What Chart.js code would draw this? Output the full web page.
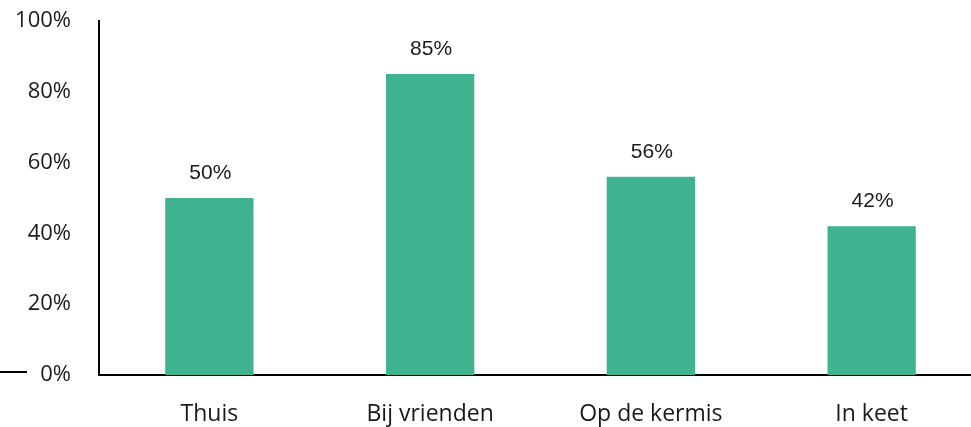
<!DOCTYPE html>
<html lang="nl">
<head>
    <meta charset="UTF-8">
    <title>Waar wordt gedronken</title>
    <script src="https://cdn.jsdelivr.net/npm/chart.js"></script>
    <style>
        html, body { margin: 0; padding: 0; background: #fff; overflow: hidden; }
        .wrap { width: 982px; height: 427px; }
    </style>
</head>
<body>
    <div class="wrap">
        <canvas id="barChart" width="982" height="427"></canvas>
    </div>

    <script>
        const categories = ["Thuis", "Bij vrienden", "Op de kermis", "In keet"];
        const percentages = [50, 85, 56, 42];
        const yTicks = [0, 20, 40, 60, 80, 100];

        const barColor = "#3fb28f";
        const labelFont = "'Open Sans', 'Noto Sans', sans-serif";

        // value labels above each bar
        const valueLabels = {
            id: "valueLabels",
            afterDatasetsDraw(chart) {
                const ctx = chart.ctx;
                const meta = chart.getDatasetMeta(0);
                ctx.save();
                ctx.font = "21px 'Liberation Sans', Arial, sans-serif";
                ctx.fillStyle = "#1a1a1a";
                ctx.textAlign = "center";
                ctx.textBaseline = "middle";
                meta.data.forEach((bar, i) => {
                    ctx.fillText(percentages[i] + "%", bar.x + 1, bar.y - 25);
                });
                ctx.restore();
            }
        };

        // short stroke left of the 0% label
        const zeroDash = {
            id: "zeroDash",
            afterDraw(chart) {
                const ctx = chart.ctx;
                const y = chart.scales.y.getPixelForValue(0) - 3;
                ctx.save();
                ctx.strokeStyle = "#000";
                ctx.lineWidth = 2;
                ctx.beginPath();
                ctx.moveTo(0, y);
                ctx.lineTo(27, y);
                ctx.stroke();
                ctx.restore();
            }
        };

        new Chart(document.getElementById("barChart"), {
            type: "bar",
            data: {
                labels: categories,
                datasets: [{
                    data: percentages,
                    backgroundColor: barColor,
                    barPercentage: 0.4,
                    categoryPercentage: 1
                }]
            },
            options: {
                responsive: false,
                animation: false,
                layout: { padding: { top: 21, right: 0, bottom: 0, left: 0 } },
                plugins: {
                    legend: { display: false },
                    tooltip: { enabled: false }
                },
                scales: {
                    x: {
                        grid: { display: false },
                        border: { display: true, color: "#000", width: 2 },
                        ticks: {
                            color: "#1a1a1a",
                            font: { family: labelFont, size: 23 },
                            padding: 18
                        },
                        afterFit(scale) {
                            scale.height = 52;
                            scale.paddingLeft = 0;
                            scale.paddingRight = 0;
                        }
                    },
                    y: {
                        min: 0,
                        max: 100,
                        afterBuildTicks(scale) {
                            scale.ticks = yTicks.map(v => ({ value: v }));
                        },
                        grid: { display: false },
                        border: { display: true, color: "#000", width: 2 },
                        ticks: {
                            color: "#1a1a1a",
                            font: { family: labelFont, size: 22 },
                            padding: 20,
                            callback: v => v + "%"
                        },
                        afterFit(scale) {
                            scale.width = 99;
                            scale.paddingTop = 0;
                            scale.paddingBottom = 0;
                        }
                    }
                }
            },
            plugins: [valueLabels, zeroDash]
        });
    </script>
</body>
</html>
